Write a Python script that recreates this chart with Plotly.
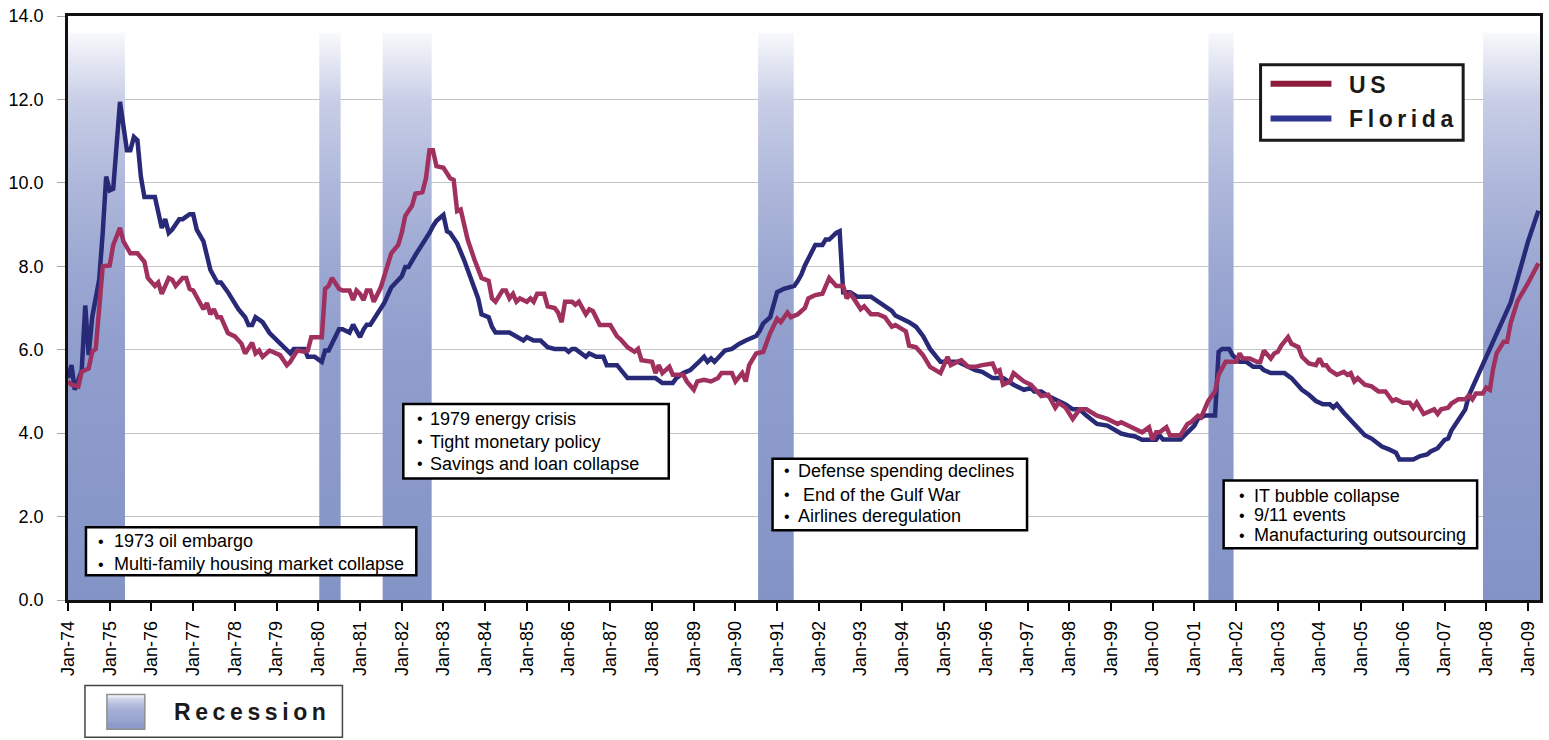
import plotly.graph_objects as go

# ---------------- data ----------------
fl_dates = ["1974-01","1974-02","1974-03","1974-04","1974-05","1974-06","1974-07","1974-08","1974-10","1974-11","1974-12",
"1975-01","1975-02","1975-04","1975-06","1975-07","1975-08","1975-09","1975-10","1975-11",
"1976-02","1976-04","1976-05","1976-06","1976-07","1976-09","1976-10","1976-12",
"1977-01","1977-02","1977-04","1977-06","1977-08","1977-09","1977-11",
"1978-02","1978-04","1978-05","1978-06","1978-07","1978-09","1978-11",
"1979-05","1979-06","1979-09","1979-10","1979-12",
"1980-02","1980-03","1980-04","1980-06","1980-07","1980-08","1980-10","1980-11",
"1981-01","1981-02","1981-03","1981-04","1981-06","1981-08","1981-10",
"1982-01","1982-02","1982-03","1982-05","1982-07","1982-09","1982-10","1982-11",
"1983-01","1983-02","1983-03","1983-05","1983-07","1983-09","1983-11","1983-12",
"1984-02","1984-03","1984-04","1984-08","1984-10","1984-12",
"1985-01","1985-03","1985-05","1985-07","1985-09","1985-12",
"1986-01","1986-02","1986-03","1986-05","1986-06","1986-07","1986-09","1986-11","1986-12",
"1987-03","1987-05","1987-06",
"1988-02","1988-04","1988-07","1988-08","1988-10","1988-12",
"1989-02","1989-04","1989-05","1989-06","1989-07","1989-09","1989-10","1989-12",
"1990-02","1990-04","1990-06","1990-07","1990-08","1990-09","1990-11","1990-12",
"1991-01","1991-03","1991-04","1991-06","1991-07","1991-08","1991-09","1991-12",
"1992-02","1992-03","1992-04","1992-06","1992-07","1992-08","1992-10","1992-12",
"1993-04","1993-06","1993-08","1993-10","1993-11",
"1994-02","1994-03","1994-05","1994-07","1994-09","1994-11","1994-12",
"1995-05","1995-08","1995-10","1995-12",
"1996-03","1996-06","1996-08","1996-09","1996-12",
"1997-02","1997-03","1997-05","1997-07","1997-09","1997-11","1997-12",
"1998-02","1998-04","1998-06","1998-09","1998-12",
"1999-03","1999-04","1999-06","1999-08","1999-10",
"2000-02","2000-03","2000-04","2000-09","2000-11",
"2001-01","2001-02","2001-04","2001-07","2001-08","2001-09","2001-11","2001-12",
"2002-02","2002-04","2002-06","2002-08","2002-09","2002-11",
"2003-03","2003-05","2003-08","2003-10","2003-12",
"2004-02","2004-04","2004-05","2004-06","2004-08","2004-11","2004-12",
"2005-02","2005-04","2005-07","2005-09","2005-11","2005-12",
"2006-04","2006-06","2006-08","2006-09","2006-11",
"2007-01","2007-02","2007-03","2007-04","2007-07","2007-08","2007-10","2007-12",
"2008-02","2008-05","2008-08","2008-10",
"2009-01","2009-04"]
fl_values = [5.32,5.63,5.04,5.30,5.50,7.06,5.87,6.78,7.68,8.80,10.15,
9.82,9.86,11.94,10.78,10.78,11.10,11.02,10.15,9.66,
9.66,8.92,9.13,8.80,8.88,9.13,9.13,9.25,
9.25,8.88,8.60,7.91,7.61,7.61,7.38,
6.97,6.78,6.59,6.59,6.78,6.66,6.40,
5.91,6.02,6.02,5.83,5.83,
5.71,5.98,5.98,6.30,6.49,6.49,6.41,6.60,
6.30,6.49,6.60,6.60,6.85,7.12,7.49,
7.76,7.98,7.98,8.27,8.51,8.80,8.96,9.09,
9.23,8.84,8.80,8.55,8.15,7.72,7.23,6.85,
6.78,6.55,6.41,6.41,6.30,6.22,
6.30,6.22,6.22,6.06,6.02,6.02,
5.95,6.02,6.02,5.91,5.83,5.91,5.83,5.83,5.63,
5.63,5.40,5.32,
5.32,5.20,5.20,5.32,5.44,5.51,
5.67,5.83,5.71,5.79,5.71,5.87,5.98,6.02,
6.14,6.22,6.30,6.33,6.45,6.63,6.78,7.08,
7.38,7.46,7.49,7.53,7.65,7.80,8.02,8.51,
8.51,8.64,8.64,8.80,8.84,7.38,7.38,7.27,
7.27,7.15,7.04,6.93,6.82,
6.70,6.66,6.55,6.33,6.02,5.79,5.71,
5.71,5.59,5.51,5.47,
5.32,5.32,5.20,5.16,5.04,
5.08,5.00,5.00,4.89,4.81,4.73,4.69,
4.57,4.57,4.42,4.22,4.18,
4.02,3.99,3.95,3.92,3.84,
3.84,3.95,3.85,3.85,4.02,
4.18,4.34,4.42,4.42,5.95,6.02,6.02,5.87,
5.71,5.71,5.59,5.59,5.51,5.44,
5.44,5.32,5.04,4.92,4.77,
4.69,4.69,4.61,4.69,4.49,4.22,4.14,
3.95,3.87,3.68,3.61,3.53,3.37,
3.37,3.45,3.49,3.56,3.64,
3.84,3.87,4.06,4.20,4.57,4.90,5.27,5.64,
6.00,6.55,7.13,7.71,
8.60,9.33]

us_dates = ["1974-01","1974-02","1974-04","1974-05","1974-07","1974-08","1974-09","1974-10","1974-11",
"1975-01","1975-02","1975-04","1975-05","1975-07","1975-09","1975-11","1975-12",
"1976-02","1976-03","1976-04","1976-06","1976-07","1976-08","1976-10","1976-11","1976-12",
"1977-01","1977-04","1977-05","1977-06","1977-07","1977-08","1977-09","1977-11",
"1978-01","1978-03","1978-04","1978-06","1978-07","1978-08","1978-09","1978-11",
"1979-02","1979-04","1979-05","1979-07","1979-09","1979-10","1979-11",
"1980-02","1980-03","1980-04","1980-05","1980-07","1980-08","1980-10","1980-11","1980-12",
"1981-01","1981-02","1981-03","1981-04","1981-05","1981-07","1981-09","1981-10","1981-12",
"1982-01","1982-02","1982-04","1982-05","1982-07","1982-08","1982-09","1982-10","1982-11",
"1983-01","1983-02","1983-03","1983-04","1983-05","1983-06","1983-08","1983-10","1983-12",
"1984-02","1984-03","1984-04","1984-06","1984-07","1984-08","1984-09","1984-10","1984-11",
"1985-01","1985-02","1985-03","1985-04","1985-06","1985-07","1985-09","1985-10","1985-11","1985-12",
"1986-02","1986-03","1986-04","1986-06","1986-07","1986-08","1986-10",
"1987-01","1987-03","1987-04","1987-06","1987-08","1987-09","1987-10",
"1988-01","1988-02","1988-03","1988-04","1988-06","1988-07","1988-10","1988-11",
"1989-01","1989-02","1989-04","1989-06","1989-08","1989-09","1989-12",
"1990-01","1990-03","1990-04","1990-05","1990-07","1990-09","1990-10","1990-11",
"1991-01","1991-02","1991-04","1991-05","1991-07","1991-08","1991-09","1991-10","1991-12",
"1992-02","1992-04","1992-06","1992-08","1992-09","1992-10","1992-11",
"1993-01","1993-02","1993-04","1993-06","1993-08","1993-10","1993-11",
"1994-02","1994-03","1994-05","1994-07","1994-09","1994-11","1994-12",
"1995-02","1995-03","1995-05","1995-06","1995-08","1995-10","1995-12",
"1996-03","1996-04","1996-05","1996-06","1996-08","1996-09","1996-12",
"1997-02","1997-04","1997-05","1997-07","1997-09","1997-10","1997-12",
"1998-02","1998-04","1998-06","1998-09","1998-12",
"1999-03","1999-04","1999-06","1999-08","1999-10","1999-12",
"2000-01","2000-02","2000-03","2000-05","2000-06","2000-09","2000-11","2000-12",
"2001-02","2001-03","2001-04","2001-05","2001-07","2001-08","2001-10",
"2002-01","2002-02","2002-03","2002-05","2002-07","2002-08","2002-09","2002-11","2002-12",
"2003-01","2003-02","2003-04","2003-05","2003-07","2003-08","2003-10","2003-12",
"2004-01","2004-02","2004-03","2004-04","2004-06","2004-08","2004-09","2004-10","2004-11","2004-12",
"2005-02","2005-04","2005-06","2005-08","2005-10","2005-11",
"2006-01","2006-03","2006-04","2006-05","2006-07","2006-09","2006-10","2006-11","2006-12",
"2007-02","2007-03","2007-05","2007-07","2007-08","2007-09","2007-10","2007-12",
"2008-01","2008-02","2008-03","2008-04","2008-06","2008-07","2008-08","2008-10",
"2009-01","2009-04"]
us_values = [5.24,5.16,5.12,5.47,5.55,5.95,6.02,7.15,8.00,
8.02,8.51,8.92,8.60,8.31,8.31,8.11,7.72,
7.53,7.61,7.34,7.72,7.68,7.53,7.72,7.72,7.46,
7.42,6.97,7.12,6.85,6.97,6.78,6.78,6.40,
6.32,6.14,5.91,6.17,5.91,5.98,5.83,5.98,
5.87,5.63,5.71,5.98,5.95,5.98,6.30,
6.30,7.46,7.53,7.72,7.46,7.42,7.42,7.19,7.42,
7.34,7.19,7.42,7.42,7.15,7.49,8.02,8.31,8.51,
8.80,9.21,9.45,9.74,9.78,10.11,10.78,10.78,10.40,
10.36,10.23,10.11,10.07,9.32,9.36,8.64,8.15,7.72,
7.65,7.23,7.15,7.42,7.42,7.23,7.34,7.15,7.23,
7.15,7.23,7.15,7.34,7.34,7.04,7.00,6.89,6.66,7.15,
7.15,7.08,7.15,6.85,6.97,6.93,6.59,
6.59,6.32,6.25,6.06,5.95,6.02,5.75,
5.71,5.44,5.63,5.44,5.59,5.40,5.40,5.24,
5.04,5.24,5.28,5.24,5.32,5.44,5.44,
5.24,5.44,5.24,5.63,5.91,5.95,6.17,6.40,
6.74,6.66,6.89,6.78,6.85,6.93,7.00,7.23,7.31,
7.34,7.72,7.53,7.53,7.23,7.34,7.23,
6.97,7.04,6.85,6.85,6.78,6.55,6.59,
6.44,6.10,6.06,5.87,5.59,5.47,5.44,
5.83,5.63,5.71,5.75,5.59,5.59,5.63,
5.67,5.47,5.51,5.16,5.24,5.44,5.24,
5.16,5.00,4.89,4.92,4.61,4.73,4.61,
4.34,4.57,4.57,4.42,4.34,
4.22,4.26,4.18,4.10,4.02,4.14,
3.84,4.02,4.02,4.14,3.95,3.95,4.22,4.26,
4.42,4.38,4.61,4.77,5.00,5.40,5.71,
5.71,5.91,5.79,5.79,5.71,5.71,5.98,5.79,5.91,
5.95,6.10,6.30,6.14,6.06,5.83,5.67,5.63,
5.79,5.63,5.63,5.51,5.40,5.47,5.40,5.44,5.24,5.32,
5.16,5.12,5.00,5.00,4.77,4.81,
4.73,4.73,4.61,4.73,4.46,4.53,4.57,4.46,4.57,
4.61,4.71,4.81,4.81,4.90,4.81,4.95,4.95,
5.09,5.04,5.55,5.92,6.19,6.19,6.64,7.17,
7.60,8.07]

rec_start = ["1974-01-01", "1980-01-10", "1981-07-18", "1990-07-18", "2001-05-04", "2007-12-03"]
rec_end   = ["1975-05-15", "1980-07-15", "1982-09-20", "1991-05-26", "2001-12-10", "2009-04-15"]
rec_top = 13.6

notes = [
    ["1973 oil embargo", "Multi-family housing market collapse"],
    ["1979 energy crisis", "Tight monetary policy", "Savings and loan collapse"],
    ["Defense spending declines", " End of the Gulf War", "Airlines deregulation"],
    ["IT bubble collapse", "9/11 events", "Manufacturing outsourcing"],
]
series_names = ["US", "Florida"]
recession_label = "Recession"

# ---------------- styling ----------------
FONT = "Arial, Liberation Sans, Helvetica, sans-serif"
US_COLOR = "#A0315F"
FL_COLOR = "#282A78"
US_LEG = "#8E1A3C"
FL_LEG = "#2E3592"
grad = [[0.0, "#8393C6"], [0.44, "#909ECD"], [0.59, "#9CA8D2"], [0.735, "#AFB8DB"],
        [0.88, "#C8CEE6"], [1.0, "#F8F9FC"]]

L, R, T, B = 68, 6, 13, 140
W, H = 1549, 740
PW, PH = W - L - R, H - T - B


def px(x):
    return (x - L) / PW


def py(y):
    return (H - B - y) / PH


fig = go.Figure()

for s, e in zip(rec_start, rec_end):
    fig.add_trace(go.Scatter(
        x=[s, s, e, e, s], y=[0, rec_top, rec_top, 0, 0],
        mode="lines", fill="toself", line=dict(width=0, color="rgba(0,0,0,0)"),
        fillgradient=dict(type="vertical", colorscale=grad),
        hoverinfo="skip", showlegend=False))

fig.add_trace(go.Scatter(x=fl_dates, y=fl_values, mode="lines", name=series_names[1],
                         line=dict(color=FL_COLOR, width=4.5)))
fig.add_trace(go.Scatter(x=us_dates, y=us_values, mode="lines", name=series_names[0],
                         line=dict(color=US_COLOR, width=4.5)))

shapes = []
annotations = []

# note boxes: (left, top, right, bottom) in pixels, bullet x, text x, line y centers
boxes = [
    ((86, 527, 417, 575), 101, 112, [541, 564]),
    ((404, 403, 670, 478), 421, 429, [418, 441, 463]),
    ((774, 458, 1029, 530), 788, 797, [470, 494, 516]),
    ((1226, 480, 1480, 548), 1244, 1254, [495, 515, 535]),
]
for (box, bx, tx, ys), lines in zip(boxes, notes):
    x0, y0, x1, y1 = box
    shapes.append(dict(type="rect", xref="paper", yref="paper", x0=px(x0), x1=px(x1),
                       y0=py(y1), y1=py(y0), line=dict(color="black", width=2.5),
                       fillcolor="white", layer="above"))
    for yy, txt in zip(ys, lines):
        annotations.append(dict(xref="paper", yref="paper", x=px(bx), y=py(yy), text="•",
                                showarrow=False, xanchor="center", yanchor="middle",
                                font=dict(family=FONT, size=16, color="black")))
        annotations.append(dict(xref="paper", yref="paper", x=px(tx), y=py(yy), text=txt,
                                showarrow=False, xanchor="left", yanchor="middle",
                                font=dict(family=FONT, size=18, color="black")))

# series legend
shapes.append(dict(type="rect", xref="paper", yref="paper", x0=px(1263), x1=px(1466),
                   y0=py(138), y1=py(62), line=dict(color="#1a1a1a", width=3),
                   fillcolor="white", layer="above"))
for yy, col, name in [(81, US_LEG, series_names[0]), (116, FL_LEG, series_names[1])]:
    shapes.append(dict(type="line", xref="paper", yref="paper", x0=px(1273), x1=px(1334),
                       y0=py(yy), y1=py(yy), line=dict(color=col, width=6), layer="above"))
    annotations.append(dict(xref="paper", yref="paper", x=px(1350), y=py(yy + 1),
                            text="<b>" + "\u2009".join(name) + "</b>", showarrow=False,
                            xanchor="left", yanchor="middle",
                            font=dict(family=FONT, size=23, color="#1a1a1a")))

# recession legend
shapes.append(dict(type="rect", xref="paper", yref="paper", x0=px(85), x1=px(343),
                   y0=py(738), y1=py(686), line=dict(color="#444444", width=1.5),
                   fillcolor="white", layer="above"))
n_strips = 35
sy0, sy1 = 695, 730
for i in range(n_strips):
    frac = i / (n_strips - 1)
    v = 1 - frac
    col = grad[0][1]
    for k in range(len(grad) - 1):
        if grad[k][0] <= v <= grad[k + 1][0]:
            a, ca = grad[k]
            b, cb = grad[k + 1]
            t = (v - a) / (b - a) if b > a else 0
            ra, ga, ba = int(ca[1:3], 16), int(ca[3:5], 16), int(ca[5:7], 16)
            rb, gb, bb = int(cb[1:3], 16), int(cb[3:5], 16), int(cb[5:7], 16)
            col = "rgb(%d,%d,%d)" % (ra + (rb - ra) * t, ga + (gb - ga) * t, ba + (bb - ba) * t)
            break
    ya = sy0 + (sy1 - sy0) * i / n_strips
    yb = sy0 + (sy1 - sy0) * (i + 1) / n_strips
    shapes.append(dict(type="rect", xref="paper", yref="paper", x0=px(107), x1=px(145),
                       y0=py(yb + 0.3), y1=py(ya), line=dict(width=0), fillcolor=col, layer="above"))
shapes.append(dict(type="rect", xref="paper", yref="paper", x0=px(107), x1=px(145),
                   y0=py(sy1), y1=py(sy0), line=dict(color="#909090", width=1.5),
                   fillcolor="rgba(0,0,0,0)", layer="above"))
annotations.append(dict(xref="paper", yref="paper", x=px(172), y=py(713),
                        text="<b>" + "\u2009".join(recession_label) + "</b>", showarrow=False,
                        xanchor="left", yanchor="middle",
                        font=dict(family=FONT, size=23, color="#1a1a1a")))

fig.update_layout(
    width=W, height=H,
    margin=dict(l=L, r=R, t=T, b=B, pad=0),
    paper_bgcolor="white", plot_bgcolor="white",
    showlegend=False,
    font=dict(family=FONT, size=18, color="black"),
    shapes=shapes, annotations=annotations,
    xaxis=dict(type="date", range=["1974-01-01", "2009-04-15"],
               tick0="1974-01-01", dtick="M12", tickformat="%b-%y",
               tickangle=-90, ticks="outside", ticklen=8, tickwidth=1.5, tickcolor="black",
               ticklabelstandoff=3,
               tickfont=dict(family=FONT, size=18, color="black"),
               showgrid=False, zeroline=False,
               showline=True, linecolor="#111111", linewidth=2.5, mirror=True),
    yaxis=dict(range=[0, 14], dtick=2, tick0=0, tickformat=".1f",
               ticks="outside", ticklen=8, tickwidth=1, tickcolor="#A8A8A8",
               ticklabelstandoff=10,
               tickfont=dict(family=FONT, size=18, color="black"),
               showgrid=True, gridcolor="#C4C4C4", gridwidth=1, zeroline=False,
               showline=True, linecolor="#111111", linewidth=2.5, mirror=True),
)

fig.write_html("out.html", config={"displayModeBar": False},
               post_script="document.body.style.margin='0';document.body.style.overflow='hidden';")
